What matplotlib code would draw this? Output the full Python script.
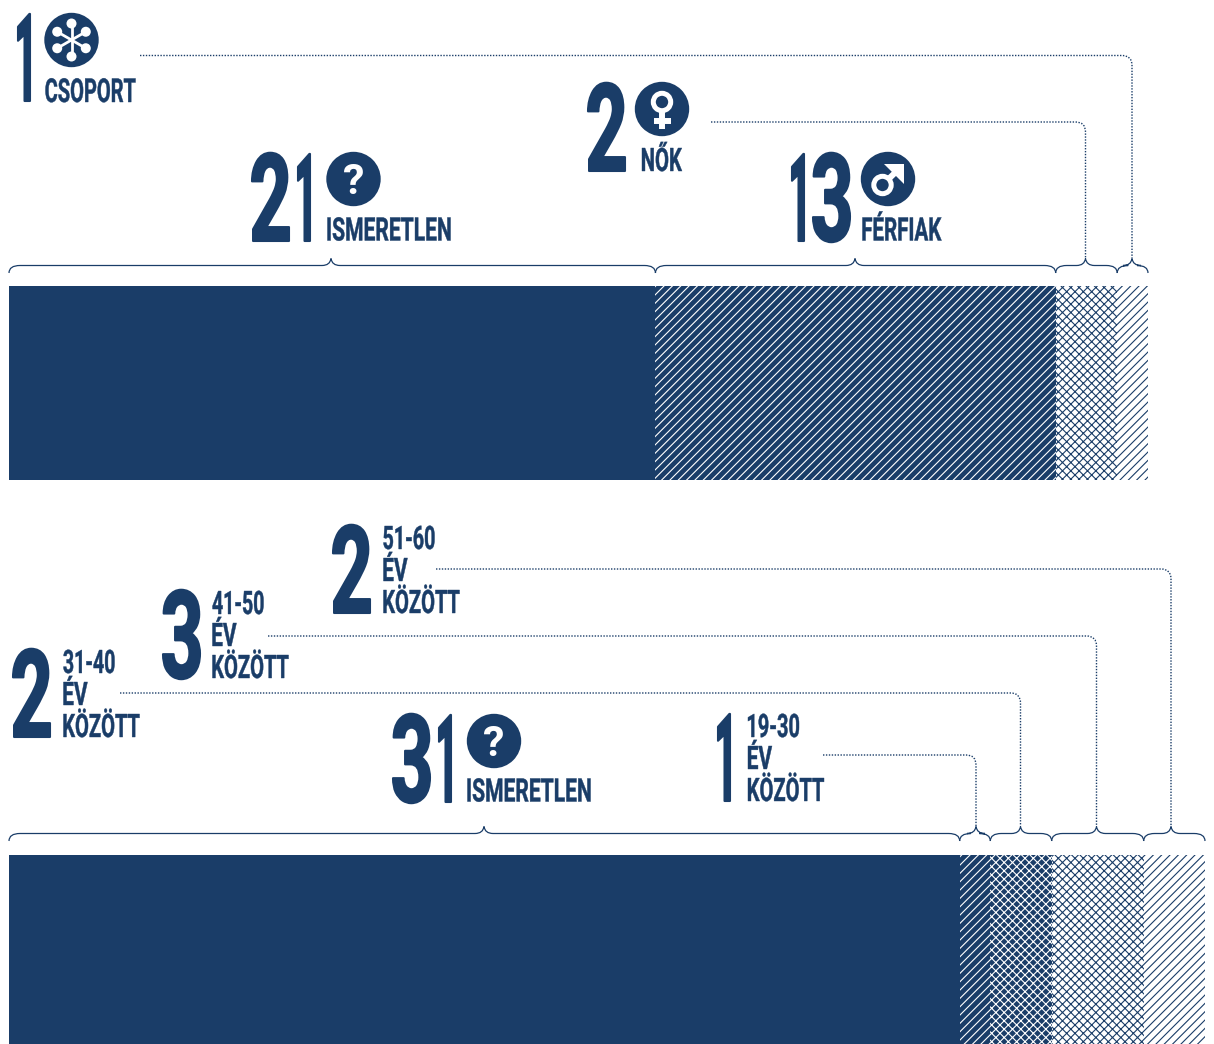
import numpy as np
import matplotlib
matplotlib.use('Agg')
import matplotlib.pyplot as plt
from matplotlib.font_manager import FontProperties
from matplotlib.patches import Circle, PathPatch, Polygon
from matplotlib.path import Path
from matplotlib.patheffects import AbstractPathEffect
from matplotlib.textpath import TextPath
from matplotlib.transforms import Affine2D

# felso oszlop: csoportositas nem szerint
kat1 = ['ISMERETLEN', 'FÉRFIAK', 'NŐK', 'CSOPORT']
ert1 = [21, 13, 2, 1]

# also oszlop: csoportositas kor szerint
kat2 = ['ISMERETLEN', '19-30', '31-40', '41-50', '51-60']
ert2 = [31, 1, 2, 3, 2]
ev_szo = 'ÉV'
kozott_szo = 'KÖZÖTT'

KEK = '#1a3d68'
FP = FontProperties(family='Roboto', weight='bold')
plt.rcParams['hatch.linewidth'] = 0.8

W, H = 1214, 1044
fig = plt.figure(figsize=(W / 100, H / 100), dpi=100)
ax = fig.add_axes([0, 0, 1, 1])
ax.set_xlim(0, W)
ax.set_ylim(H, 0)
ax.axis('off')


class Magas(AbstractPathEffect):
    # fuggolegesen nyujtja a feliratot, igy lesz keskeny betu kinezete
    def __init__(self, s, y0, vastag=0):
        super().__init__()
        self.s, self.y0, self.vastag = s, y0, vastag

    def draw_path(self, renderer, gc, tpath, affine, rgbFace=None):
        tr = affine + Affine2D().translate(0, -self.y0).scale(1, self.s).translate(0, self.y0)
        gc0 = renderer.new_gc()
        gc0.copy_properties(gc)
        gc0.set_foreground(rgbFace)
        gc0.set_linewidth(self.vastag)
        renderer.draw_path(gc0, tpath, tr, rgbFace)
        gc0.restore()


def felirat(s, x, alap, mag, szel, vastag=0.3):
    # x: bal szel, alap: alapvonal, mag: nagybetu magassag, szel: teljes szelesseg pixelben
    h100 = TextPath((0, 0), 'H', size=100, prop=FP).get_extents().height
    w100 = TextPath((0, 0), s, size=100, prop=FP).get_extents()
    px = 100 * szel / w100.width
    nyujt = mag / (h100 * px / 100)
    x0 = x - w100.x0 * px / 100
    t = ax.text(x0, alap, s, fontproperties=FP, fontsize=px * 0.72, color=KEK,
                ha='left', va='baseline')
    t.set_path_effects([Magas(nyujt, H - alap, vastag)])
    return t


def szam(v, x_bal, alap):
    # nagy szamjegyek egyenkent, az 1-es keskenyebb
    x = x_bal
    for c in str(v):
        sz = 12 if c == '1' else 37
        felirat(c, x + 1, alap - 1, 87, sz, 1.5)
        x += sz + 9


def oszlop(ertekek, y0, y1, stilusok):
    egyseg = (stilusok['x1'] - 9) / sum(ertekek)
    hatar = 9 + np.cumsum([0] + ertekek) * egyseg
    for i, v in enumerate(ertekek):
        fc, hc, minta = stilusok['sz'][i]
        ax.barh((y0 + y1) / 2, v * egyseg, y1 - y0, left=hatar[i], facecolor=fc,
                edgecolor=hc, hatch=minta, linewidth=0)
    return hatar


def kapcsos(a, b, m, y, le, fel):
    # kapcsos zarojel a szakasz folott, csucs m-nel
    v = [(a, y + le), (a, y), (a + 11, y), (m - 9, y), (m - 1, y), (m, y - fel),
         (m + 1, y), (m + 9, y), (b - 11, y), (b, y), (b, y + le)]
    c = [Path.MOVETO, Path.CURVE3, Path.CURVE3, Path.LINETO, Path.CURVE3, Path.CURVE3,
         Path.CURVE3, Path.CURVE3, Path.LINETO, Path.CURVE3, Path.CURVE3]
    ax.add_patch(PathPatch(Path(v, c), fc='none', ec=KEK, lw=0.9))


def pontozott(x0, y, x1, y1):
    v = [(x0, y), (x1 - 10, y), (x1, y), (x1, y + 10), (x1, y1)]
    c = [Path.MOVETO, Path.LINETO, Path.CURVE3, Path.CURVE3, Path.LINETO]
    ax.add_patch(PathPatch(Path(v, c), fc='none', ec=KEK, lw=1.0, ls=(0, (1, 1.1))))


def kor(x, y):
    ax.add_patch(Circle((x, y), 27.2, fc=KEK, ec='none'))


def kerdes(x, y):
    kor(x, y)
    ax.text(x, y + 15.5, '?', color='white', fontsize=31, family='Roboto',
            weight='bold', ha='center', va='baseline')


def csillag(x, y):
    kor(x, y)
    for a in np.radians(np.arange(0, 360, 60)):
        px, py = x + 16.5 * np.sin(a), y - 16.5 * np.cos(a)
        ax.plot([x, px], [y, py], color='white', lw=2, solid_capstyle='round')
        ax.add_patch(Circle((px, py), 5, fc='white', ec='none'))


def no_jel(x, y):
    kor(x, y)
    ax.add_patch(Circle((x, y - 7), 8.7, fc='none', ec='white', lw=3.6))
    ax.plot([x, x], [y + 3, y + 20], color='white', lw=4.3, solid_capstyle='butt')
    ax.plot([x - 8.5, x + 8.5], [y + 12, y + 12], color='white', lw=4.3, solid_capstyle='butt')


def ferfi_jel(x, y):
    kor(x, y)
    ax.add_patch(Circle((x - 5.5, y + 6), 8.7, fc='none', ec='white', lw=3.6))
    ax.plot([x - 0.5, x + 12], [y + 1, y - 11], color='white', lw=4.3, solid_capstyle='butt')
    ax.add_patch(Polygon([(x - 4, y - 15), (x + 16, y - 15), (x + 16, y + 5)], fc='white', ec='none'))


# oszlopok
stil1 = {'x1': 1148, 'sz': [(KEK, KEK, None), (KEK, 'white', '////'),
                            ('white', KEK, 'xxxx'), ('white', KEK, '////')]}
stil2 = {'x1': 1205, 'sz': [(KEK, KEK, None), (KEK, 'white', '////'), (KEK, 'white', 'xxxx'),
                            ('white', KEK, 'xxxx'), ('white', KEK, '////')]}
h1 = oszlop(ert1, 286, 480, stil1)
h2 = oszlop(ert2, 855, 1044, stil2)

# zarojelek csucsai
cs1 = [331, 855, 1085.5, 1132]
cs2 = [484, 976, 1020.5, 1096.5, 1171]

for i in range(len(ert1)):
    kapcsos(h1[i], h1[i + 1], cs1[i], 265.5, 7.5, 7)
for i in range(len(ert2)):
    kapcsos(h2[i], h2[i + 1], cs2[i], 833.5, 7.5, 7)

# pontozott vonalak a kis szakaszokhoz
pontozott(140, 55.5, cs1[3], 258)
pontozott(711, 122, cs1[2], 258)
pontozott(823, 755, cs2[1], 826)
pontozott(120, 693, cs2[2], 826)
pontozott(268, 636, cs2[3], 826)
pontozott(436, 569, cs2[4], 826)

# felso csoport feliratai
szam(ert1[3], 17, 102)
csillag(71.5, 40)
felirat(kat1[3], 45.5, 102, 23.5, 90)

szam(ert1[0], 251, 242)
kerdes(353.5, 179)
felirat(kat1[0], 327.5, 240.5, 23, 123)

szam(ert1[2], 587, 172)
no_jel(662, 109)
felirat(kat1[2], 642, 171, 23, 40)

szam(ert1[1], 791, 242)
ferfi_jel(888, 179)
felirat(kat1[1], 862.5, 240.5, 23, 79)

# also csoport feliratai
szam(ert2[0], 392, 803)
kerdes(494, 741)
felirat(kat2[0], 467.5, 801.5, 23, 123)

kor_hely = [(1, 717, 802, 748), (2, 12, 738, 63.5), (3, 162, 679, 212.5), (4, 332, 614, 383.5)]
for i, x0, alap, xt in kor_hely:
    szam(ert2[i], x0, alap)
    felirat(kat2[i], xt, alap - 65, 23, 51)
    felirat(ev_szo, xt, alap - 33, 23, 24)
    felirat(kozott_szo, xt, alap - 1, 23, 76)

fig.savefig('out.png', dpi=100)
